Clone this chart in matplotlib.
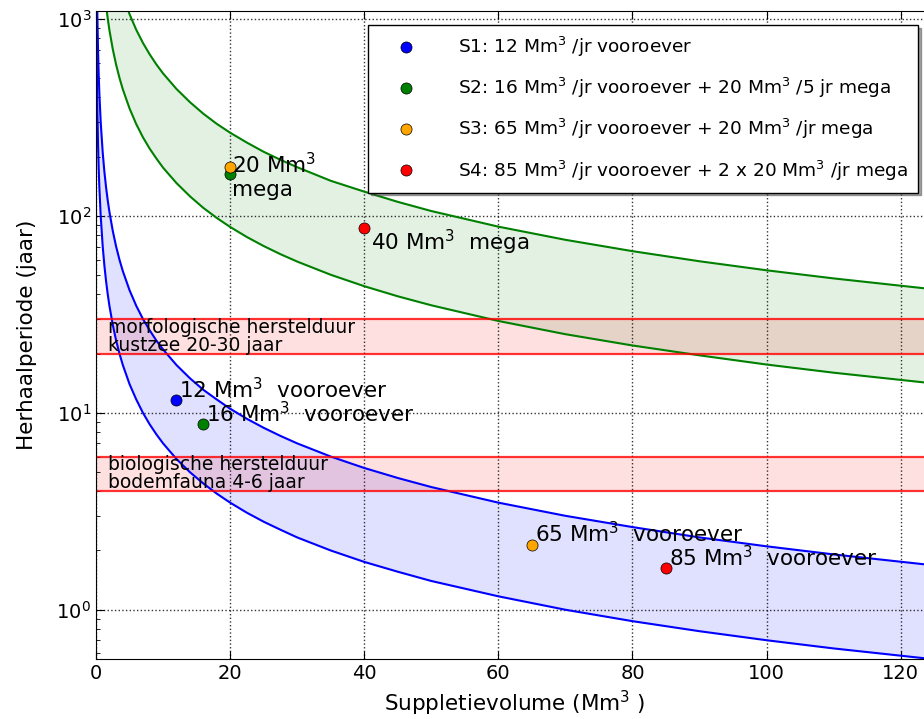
import matplotlib
matplotlib.use("Agg")
import matplotlib.pyplot as plt

x_blue = [0.05, 0.07, 0.1, 0.15, 0.2, 0.3, 0.4, 0.5, 0.7, 1, 1.25, 1.5, 1.75, 2, 2.5, 3, 3.5,
          4, 5, 6, 7, 8, 9, 10, 12, 14, 16, 18, 20, 22.5, 25, 27.5, 30, 35, 40, 45, 50,
          60, 70, 80, 90, 100, 110, 125]
blue_low = [1400, 1000, 700, 467, 350, 233, 175, 140, 100, 70, 56, 46.7, 40, 35, 28, 23.3, 20,
            17.5, 14, 11.7, 10, 8.75, 7.78, 7.0, 5.83, 5.0, 4.38, 3.89, 3.5, 3.11, 2.8, 2.55,
            2.33, 2.0, 1.75, 1.56, 1.4, 1.17, 1.0, 0.875, 0.778, 0.70, 0.636, 0.56]
blue_high = [4200, 3000, 2100, 1400, 1050, 700, 525, 420, 300, 210, 168, 140, 120, 105, 84, 70,
             60, 52.5, 42, 35, 30, 26.3, 23.3, 21, 17.5, 15, 13.1, 11.7, 10.5, 9.33, 8.4, 7.64,
             7.0, 6.0, 5.25, 4.67, 4.2, 3.5, 3.0, 2.63, 2.33, 2.1, 1.91, 1.68]

x_green = [1, 1.25, 1.5, 1.75, 2, 2.5, 3, 3.5, 4, 5, 6, 7, 8, 9, 10, 12, 14, 16, 18, 20,
           22.5, 25, 27.5, 30, 35, 40, 45, 50, 60, 70, 80, 90, 100, 110, 125]
green_low = [1760, 1408, 1173, 1006, 880, 704, 587, 503, 440, 352, 293, 251, 220, 196, 176,
             147, 126, 110, 97.8, 88, 78.2, 70.4, 64, 58.7, 50.3, 44, 39.1, 35.2, 29.3, 25.1,
             22, 19.6, 17.6, 16.0, 14.1]
green_high = [5300, 4240, 3533, 3029, 2650, 2120, 1767, 1514, 1325, 1060, 883, 757, 663, 589,
              530, 442, 379, 331, 294, 265, 236, 212, 193, 177, 151, 133, 118, 106, 88.3, 75.7,
              66.3, 58.9, 53, 48.2, 42.4]

# hersteltijden (jaar)
morf_band = [20, 30]
bio_band = [4, 6]

# scenario's
s_labels = [
    "S1: 12 Mm$^3$ /jr vooroever",
    "S2: 16 Mm$^3$ /jr vooroever + 20 Mm$^3$ /5 jr mega",
    "S3: 65 Mm$^3$ /jr vooroever + 20 Mm$^3$ /jr mega",
    "S4: 85 Mm$^3$ /jr vooroever + 2 x 20 Mm$^3$ /jr mega",
]
s_colors = ["blue", "green", "orange", "red"]
s_vol = [[12], [16, 20], [65, 20], [85, 40]]
s_T = [[11.6], [8.8, 163], [2.14, 178], [1.63, 87]]

fig = plt.figure(figsize=(9.24, 7.19), dpi=100)
ax = fig.add_axes([0.1039, 0.083, 0.9072, 0.9017])

ax.fill_between(x_blue, blue_low, blue_high, color="blue", alpha=0.12, lw=0)
ax.plot(x_blue, blue_low, color="blue", lw=1.5)
ax.plot(x_blue, blue_high, color="blue", lw=1.5)
ax.fill_between(x_green, green_low, green_high, color="green", alpha=0.11, lw=0)
ax.plot(x_green, green_low, color="green", lw=1.5)
ax.plot(x_green, green_high, color="green", lw=1.5)

for lo, hi in (morf_band, bio_band):
    ax.axhspan(lo, hi, color="red", alpha=0.12, lw=0)
    ax.axhline(lo, color="red", lw=1.6, alpha=0.8)
    ax.axhline(hi, color="red", lw=1.6, alpha=0.8)

ax.text(1.8, 24.5, "morfologische hersteldure\nkustzee 20-30 jaar".replace("dure", "duur"),
        fontsize=13.5, va="center", linespacing=0.95)
ax.text(1.8, 4.9, "biologische hersteldure\nbodemfauna 4-6 jaar".replace("dure", "duur"),
        fontsize=13.5, va="center", linespacing=0.95)

for vol, T, c, lab in zip(s_vol, s_T, s_colors, s_labels):
    ax.plot(vol, T, "o", color=c, mec="black", mew=0.5, ms=8, label=lab, zorder=5)

lab_fs = 15.5
ax.text(12.4, 11.9, "12 Mm$^3$  vooroever", fontsize=lab_fs)
ax.text(16.4, 8.95, "16 Mm$^3$  vooroever", fontsize=lab_fs)
ax.text(65.4, 2.2, "65 Mm$^3$  vooroever", fontsize=lab_fs)
ax.text(85.4, 1.67, "85 Mm$^3$  vooroever", fontsize=lab_fs)
ax.text(20.3, 160, "20 Mm$^3$\nmega", fontsize=lab_fs, va="center", linespacing=1.15)
ax.text(41.0, 87, "40 Mm$^3$  mega", fontsize=lab_fs, va="top")

ax.set_yscale("log")
ax.set_xlim(0, 125)
ax.set_ylim(0.56, 1100)
ax.set_xticks([0, 20, 40, 60, 80, 100, 120])
ax.grid(True, which="major", color="black", linestyle=":", lw=1, alpha=0.8)
ax.tick_params(which="both", direction="in", top=True, right=True, labelsize=14)
ax.tick_params(which="major", length=6)
ax.tick_params(which="minor", length=3)
ax.set_xlabel("Suppletievolume (Mm$^3$ )", fontsize=15.5)
ax.set_ylabel("Herhaalperiode (jaar)", fontsize=15.5, labelpad=14)

ax.legend(loc="upper right", bbox_to_anchor=(918 / 924, 1 - 25 / 719),
          bbox_transform=fig.transFigure, borderaxespad=0, numpoints=1,
          fontsize=13.3, labelspacing=0.92, handlelength=3, handletextpad=1.3,
          borderpad=0.55, fancybox=False, shadow=True, edgecolor="black", framealpha=1)

fig.savefig("out.png", dpi=100)
